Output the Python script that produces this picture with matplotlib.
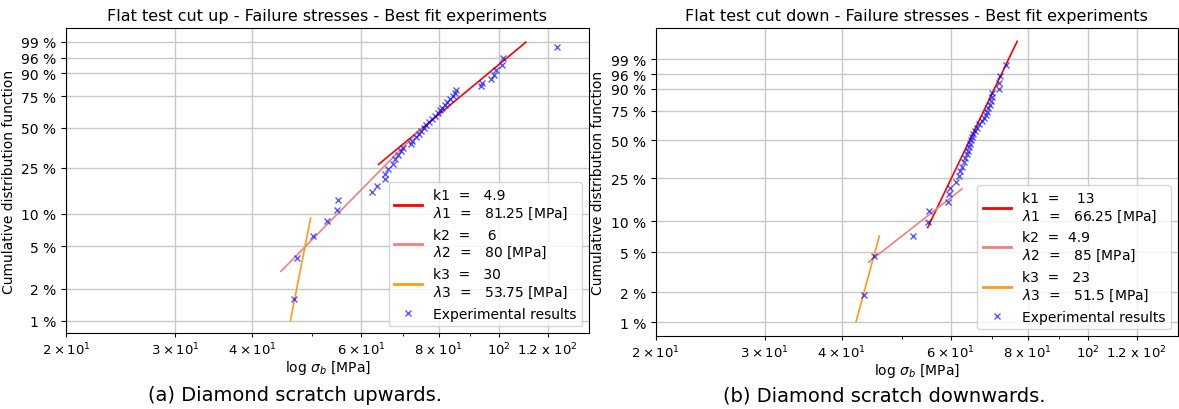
import numpy as np
import matplotlib
matplotlib.use('Agg')
import matplotlib.pyplot as plt

################################
# Weibull plots of failure stresses - flat test, diamond scratch up / down

# Failure stresses [MPa] (sorted) and cumulative probability [%]
stress_up = [46.7, 47.2, 50.1, 52.8, 54.9, 55.0, 62.5, 63.6, 65.5, 65.6,
             66.4, 67.4, 68.1, 68.7, 69.5, 70.1, 72.2, 72.5, 73.5, 74.4,
             74.9, 75.8, 76.4, 77.3, 78.2, 79.0, 79.7, 80.5, 81.1, 82.0,
             82.6, 83.5, 84.5, 85.0, 85.3, 93.6, 93.9, 97.1, 98.3, 99.2,
             101.2, 101.8, 124.4]
prob_up = [1.61, 3.92, 6.22, 8.53, 10.83, 13.13, 15.44, 17.74, 20.05, 22.35,
           24.65, 26.96, 29.26, 31.57, 33.87, 36.18, 38.48, 40.78, 43.09, 45.39,
           47.70, 50.00, 52.30, 54.61, 56.91, 59.22, 61.52, 63.82, 66.13, 68.43,
           70.74, 73.04, 75.35, 77.65, 79.95, 82.26, 84.56, 86.87, 89.17, 91.47,
           93.78, 96.08, 98.39]

stress_down = [43.4, 45.1, 52.1, 55.1, 55.4, 59.4, 59.7, 59.9, 61.2, 61.8,
               62.2, 62.6, 63.0, 63.3, 63.7, 64.0, 64.3, 64.6, 64.8, 65.1,
               65.3, 65.8, 66.3, 66.8, 67.5, 68.0, 68.5, 68.8, 69.0, 69.4,
               69.7, 69.9, 70.1, 71.9, 71.9, 72.1, 73.7]
prob_down = [1.87, 4.55, 7.22, 9.89, 12.57, 15.24, 17.91, 20.59, 23.26, 25.94,
             28.61, 31.28, 33.96, 36.63, 39.30, 41.98, 44.65, 47.33, 50.00, 52.67,
             55.35, 58.02, 60.70, 63.37, 66.04, 68.72, 71.39, 74.06, 76.74, 79.41,
             82.09, 84.76, 87.43, 90.11, 92.78, 95.45, 98.13]

# Weibull fits: shape k, scale lambda [MPa], stress range of the drawn segment
k_up = [4.9, 6, 30]
lam_up = [81.25, 80, 53.75]
span_up = [(64.0, 110.7), (44.5, 75.0), (46.1, 49.7)]
labels_up = ['k1  =   4.9\n$\\lambda$1  =   81.25 [MPa]',
             'k2  =    6\n$\\lambda$2  =   80 [MPa]',
             'k3  =   30\n$\\lambda$3  =   53.75 [MPa]']

k_down = [13, 4.9, 23]
lam_down = [66.25, 85, 51.5]
span_down = [(55.1, 76.9), (44.2, 62.6), (42.2, 46.0)]
labels_down = ['k1  =    13\n$\\lambda$1  =   66.25 [MPa]',
               'k2  =  4.9\n$\\lambda$2  =   85 [MPa]',
               'k3  =   23\n$\\lambda$3  =   51.5 [MPa]']

fit_colors = ['red', 'lightcoral', '#ff9a1a']

pct_ticks = [1, 2, 5, 10, 25, 50, 75, 90, 96, 99]
x_ticks = [20, 30, 40, 60, 80, 100, 120]
x_ticklabels = [r'$2\times10^{1}$', r'$3\times10^{1}$', r'$4\times10^{1}$',
                r'$6\times10^{1}$', r'8 x $10^{1}$', r'$10^{2}$', r'1.2 x $10^{2}$']

titles = ['Flat test cut up - Failure stresses - Best fit experiments',
          'Flat test cut down - Failure stresses - Best fit experiments']
captions = ['(a) Diamond scratch upwards.', '(b) Diamond scratch downwards.']


def weib(F):
    with np.errstate(divide='ignore', invalid='ignore'):
        return np.log(-np.log(1.0 - np.asarray(F, dtype=float)))


def weib_inv(y):
    return 1.0 - np.exp(-np.exp(np.asarray(y, dtype=float)))


def weibull_cdf(x, k, lam):
    return 1.0 - np.exp(-(np.asarray(x) / lam) ** k)


params = {'font.family': 'DejaVu Sans',
          'axes.titlesize': 11.5,
          'axes.labelsize': 10,
          'xtick.labelsize': 9.5,
          'ytick.labelsize': 10,
          'xtick.major.pad': 2,
          'xtick.major.size': 3,
          'legend.fontsize': 10,
          'grid.color': '#c8c8c8',
          'grid.linewidth': 1.0}
plt.rcParams.update(params)

fig = plt.figure(figsize=(11.79, 4.10), dpi=100)
ax_up = fig.add_axes([0.0559, 0.1846, 0.4437, 0.7439])
ax_down = fig.add_axes([0.5562, 0.1773, 0.4429, 0.7520])

panels = [
    (ax_up, stress_up, prob_up, k_up, lam_up, span_up, labels_up, (-4.88, 1.82)),
    (ax_down, stress_down, prob_down, k_down, lam_down, span_down, labels_down, (-4.93, 2.25)),
]

for i, (ax, s, p, ks, lams, spans, labs, ylims) in enumerate(panels):
    ax.set_xscale('log')
    ax.set_yscale('function', functions=(weib, weib_inv))
    for k, lam, (x0, x1), lab, c in zip(ks, lams, spans, labs, fit_colors):
        xx = np.array([x0, x1])
        ax.plot(xx, weibull_cdf(xx, k, lam), color=c, linewidth=1.2, label=lab)
    ax.plot(s, np.array(p) / 100.0, 'x', color='blue', alpha=0.65,
            markersize=5, markeredgewidth=1.0, label='Experimental results')

    ax.set_xlim(20, 140)
    ax.set_ylim(weib_inv(ylims[0]), weib_inv(ylims[1]))
    ax.set_xticks(x_ticks)
    ax.set_xticklabels(x_ticklabels)
    ax.xaxis.set_minor_formatter(matplotlib.ticker.NullFormatter())
    ax.set_yticks(np.array(pct_ticks) / 100.0)
    ax.set_yticklabels(['%d %%' % v for v in pct_ticks])
    ax.yaxis.set_minor_locator(matplotlib.ticker.NullLocator())
    ax.grid(True, which='major')

    ax.set_title(titles[i])
    ax.set_xlabel(r'log $\sigma_b$ [MPa]', labelpad=1)
    ax.set_ylabel('Cumulative distribution function')
    leg = ax.legend(loc='lower right')
    for h in leg.legend_handles[:3]:
        h.set_linewidth(2)

ax_up.yaxis.set_label_coords(-0.095, 0.5)
ax_down.yaxis.set_label_coords(-0.098, 0.5)

fig.text(0.25, 0.035, captions[0], ha='center', va='center', fontsize=14)
fig.text(0.75, 0.035, captions[1], ha='center', va='center', fontsize=14)

plt.savefig('out.png', dpi=100)
